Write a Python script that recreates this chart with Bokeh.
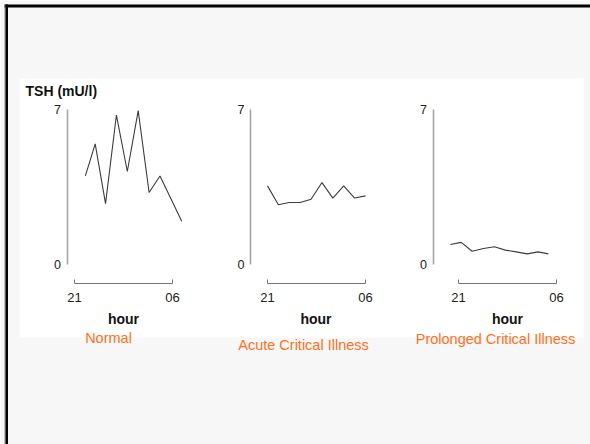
from bokeh.plotting import figure
from bokeh.models import Range1d, LinearAxis, FixedTicker
from bokeh.core.properties import value
from bokeh.embed import file_html
from bokeh.resources import INLINE

# ---------------- data ----------------
y_title = "TSH (mU/l)"
x_title = "hour"
panel_names = ["Normal", "Acute Critical Illness", "Prolonged Critical Illness"]
y_ticks = [0, 7]
x_ticks = [21, 30]
x_tick_labels = ["21", "06"]

normal_hour = [22.0, 22.9, 23.85, 24.85, 25.85, 26.85, 27.85, 28.85, 30.85]
normal_tsh = [4.0, 5.45, 2.75, 6.75, 4.2, 6.95, 3.25, 4.0, 1.95]

acute_hour = [21, 22, 23, 24, 25, 26, 27, 28, 29, 30]
acute_tsh = [3.55, 2.7, 2.8, 2.8, 2.95, 3.7, 3.0, 3.55, 3.0, 3.1]

prolonged_hour = [20.25, 21.25, 22.25, 23.3, 24.3, 25.3, 26.3, 27.3, 28.3, 29.25]
prolonged_tsh = [0.9, 1.0, 0.6, 0.72, 0.8, 0.65, 0.57, 0.48, 0.57, 0.48]

series_hours = [normal_hour, acute_hour, prolonged_hour]
series_tsh = [normal_tsh, acute_tsh, prolonged_tsh]

# ---------------- layout (picture pixels) ----------------
L, R, T, B = 0, 590, 0, 444
W, H = R - L, B - T
ZERO_PX, SEVEN_PX = 264, 109           # y pixel of TSH 0 and 7
SX = 98 / 9                            # px per hour
SY = (ZERO_PX - SEVEN_PX) / 7          # px per mU/l
panel_x0 = [74, 267, 458]              # pixel of hour 21 in each panel
yaxis_px = [66.5, 250, 432.5]          # pixel x of each y-axis
xaxis_py = 283                         # pixel y of x-axes
hour_label_pos = [(123, 318), (315.5, 318), (507, 318)]
name_pos = [(108, 337.5), (303, 344), (495, 338)]

FONT_NAME = "Liberation Sans"
FONT = value(FONT_NAME)
ORANGE = "#ff7022"

p = figure(width=W, height=H, x_range=Range1d(L, R), y_range=Range1d(B, T),
           x_axis_type=None, y_axis_type=None, output_backend="svg",
           toolbar_location=None, min_border=0,
           background_fill_color="#f7f7f7", border_fill_color="#f7f7f7",
           outline_line_color=None)

# slide frame and white content box
p.quad(left=[4], right=[R], top=[4], bottom=[7], fill_color="black", line_color=None)
p.quad(left=[4], right=[5], top=[4], bottom=[B], fill_color="#888888", line_color=None)
p.quad(left=[5], right=[7.5], top=[4], bottom=[B], fill_color="black", line_color=None)
p.quad(left=[19], right=[583], top=[78], bottom=[337], fill_color="white", line_color=None)

# shared TSH range
p.extra_y_ranges["tsh"] = Range1d((ZERO_PX - B) / SY, (ZERO_PX - T) / SY)

for i in range(3):
    xr = f"hour{i}"
    x0 = panel_x0[i]
    p.extra_x_ranges[xr] = Range1d(21 + (L - x0) / SX, 21 + (R - x0) / SX)

    yaxis = LinearAxis(x_range_name=xr, y_range_name="tsh",
                       fixed_location=21 + (yaxis_px[i] - x0) / SX,
                       ticker=FixedTicker(ticks=y_ticks), bounds=(0, 7),
                       axis_line_color="#a6a6a6", axis_line_width=1.6,
                       major_tick_line_color=None, major_tick_in=0, major_tick_out=0,
                       minor_tick_line_color=None,
                       major_label_standoff=6,
                       major_label_text_font=FONT_NAME,
                       major_label_text_font_size="12.5px",
                       major_label_text_color="#222222")
    p.add_layout(yaxis, "left")

    xaxis = LinearAxis(x_range_name=xr, y_range_name="tsh",
                       fixed_location=(ZERO_PX - xaxis_py) / SY,
                       ticker=FixedTicker(ticks=x_ticks), bounds=(x_ticks[0], x_ticks[1]),
                       major_label_overrides={x_ticks[0]: x_tick_labels[0],
                                              x_ticks[1]: x_tick_labels[1]},
                       axis_line_color="#777777", axis_line_width=1,
                       major_tick_line_color="#777777", major_tick_in=4, major_tick_out=0,
                       minor_tick_line_color=None,
                       major_label_standoff=9,
                       major_label_text_font=FONT_NAME,
                       major_label_text_font_size="13px",
                       major_label_text_color="#222222")
    p.add_layout(xaxis, "below")

    p.line(x=series_hours[i], y=series_tsh[i], x_range_name=xr, y_range_name="tsh",
           line_color="#3c3c3c", line_width=1.1)

# texts
p.text(x=[25], y=[90], text=[y_title], text_font=FONT, text_font_style="bold",
       text_font_size=value("14px"), text_align="left", text_baseline="middle",
       text_color="#111111")
p.text(x=[q[0] for q in hour_label_pos], y=[q[1] for q in hour_label_pos],
       text=[x_title] * 3, text_font=FONT, text_font_style="bold",
       text_font_size=value("14px"), text_align="center", text_baseline="middle",
       text_color="#111111")
p.text(x=[q[0] for q in name_pos], y=[q[1] for q in name_pos], text=panel_names,
       text_font=FONT, text_font_size=value("14.5px"), text_align="center",
       text_baseline="middle", text_color=ORANGE)

open("out.html", "w").write(file_html(p, INLINE))
